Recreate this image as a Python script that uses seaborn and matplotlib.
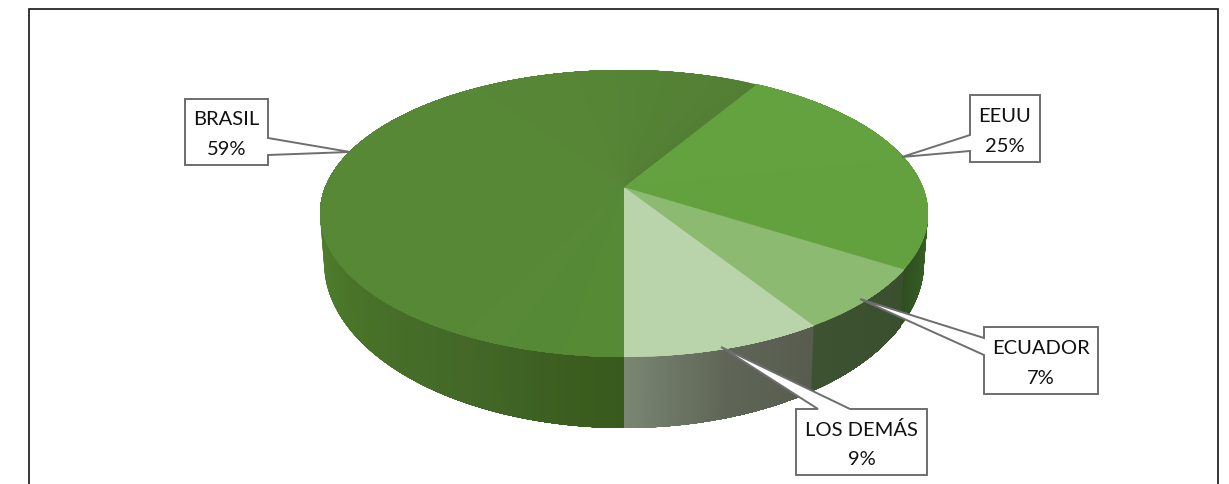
import numpy as np
import matplotlib
matplotlib.use("Agg")
import matplotlib.pyplot as plt
import seaborn as sns

# --- data (counter-clockwise from the bottom of the pie) ---
categories = ["LOS DEMÁS", "ECUADOR", "EEUU", "BRASIL"]
shares = [9.0, 7.0, 25.4, 58.6]

# --- style ---
top_stops = {
    "LOS DEMÁS": ["#b9d3ab", "#b9d3ab"],
    "ECUADOR": ["#8bba70", "#8bba70"],
    "EEUU": ["#63a03e", "#64a13f"],
    "BRASIL": ["#527f34", "#568536", "#578836", "#578836", "#578836", "#578836", "#568a35"],
}
wall_stops = {  # left to right on the screen
    "LOS DEMÁS": ["#7a8672", "#5f6657", "#575c4e"],
    "ECUADOR": ["#3d5231", "#3a4f2e"],
    "EEUU": ["#2f4f20", "#3a6526"],
    "BRASIL": ["#4f802d", "#497328", "#436828", "#385a1c"],
}
callouts = [
    ("BRASIL", (185, 268, 99, 165), [(268, 138), (350, 152), (268, 155)]),
    ("EEUU", (970, 1040, 95, 162), [(970, 135), (902, 157), (970, 151)]),
    ("ECUADOR", (984, 1098, 327, 394), [(984, 338), (860, 299), (984, 355)]),
    ("LOS DEMÁS", (796, 927, 409, 475), [(818, 409), (721, 347), (850, 409)]),
]

sns.set_theme(style="white")
plt.rcParams["font.family"] = ["Lato", "DejaVu Sans"]

W, H = 1229, 484
fig = plt.figure(figsize=(W / 100, H / 100), dpi=100)
ax = fig.add_axes([0, 0, 1, 1])
ax.set_xlim(0, W)
ax.set_ylim(H, 0)
ax.axis("off")

# Perspective view of the pie: ellipse centre, half axes, apex offset
CX, CY, AE, BE = 624.0, 213.5, 304.0, 143.5
APEX = 26.5
K = APEX / BE
CHORD = AE * np.sqrt(1 - K ** 2)
# bottom ellipse of the wall
BCY, BBE, BAE = 262.0, 166.0, 300.0


def project(theta):
    c, s = np.cos(theta), np.sin(theta)
    w = 1 + K * s
    return CX + CHORD * c / w, CY - (BE * s + APEX) / w


def wall_bottom(x):
    dx = (x - CX) * BAE / AE
    return CX + dx, BCY + BBE * np.sqrt(np.clip(1 - (dx / BAE) ** 2, 0, 1))


# frame
ax.plot([29, 29, 1218, 1218], [H, 9, 9, H], color="#262626", lw=1.3, zorder=1,
        solid_joinstyle="miter")

edges = np.radians(-90 + 360 * np.cumsum([0] + shares) / sum(shares))
z = 2.0
for name, t0, t1 in zip(categories, edges[:-1], edges[1:]):
    # wall: only the part of the rim on the near half of the ellipse
    th = np.linspace(t0, t1, 160)
    xt, yt = project(th)
    th = th[yt >= CY]
    if th.size > 1:
        xt, yt = project(th)
        order = np.argsort(xt)
        xt, yt = xt[order], yt[order]
        xb, yb = wall_bottom(xt)
        pal = sns.blend_palette(wall_stops[name], n_colors=len(xt) - 1)
        # each strip covers everything still to come, so no seams show
        for i in range(len(xt) - 1):
            z += 0.0001
            ax.fill(np.r_[xt[i:], xb[i:][::-1]], np.r_[yt[i:], yb[i:][::-1]],
                    facecolor=pal[i], edgecolor="none", zorder=z)

z = 3.0
for name, t0, t1 in zip(categories, edges[:-1], edges[1:]):
    # top face, shaded along the arc in the same overlapping way
    n = max(int((t1 - t0) * 30), 2)
    th = np.linspace(t0, t1, n + 1)
    pal = sns.blend_palette(top_stops[name], n_colors=n)
    for i in range(n):
        z += 0.0001
        x, y = project(np.linspace(th[i], t1, 300))
        ax.fill(np.r_[CX, x], np.r_[CY - APEX, y], facecolor=pal[i],
                edgecolor="none", zorder=z)

# callouts
total = sum(shares)
for name, (x0, x1, y0, y1), tip in callouts:
    pct = round(shares[categories.index(name)] / total * 100)
    px = [p[0] for p in tip]
    py = [p[1] for p in tip]
    if px[0] == x0:   # pointer leaves the left side
        xs = [x0, x1, x1, x0] + px[::-1]
        ys = [y0, y0, y1, y1] + py[::-1]
    elif px[0] == x1:  # right side
        xs = [x0, x1] + px + [x1, x0]
        ys = [y0, y0] + py + [y1, y1]
    else:              # top side
        xs = [x0] + px + [x1, x1, x0]
        ys = [y0] + py + [y0, y1, y1]
    ax.fill(xs, ys, facecolor="white", edgecolor="#6e6e6e", lw=1.4, zorder=5,
            joinstyle="miter")
    ym = (y0 + y1) / 2
    ax.text((x0 + x1) / 2, ym - 12.5, name, ha="center", va="center",
            fontsize=14.5, color="#111111", zorder=6)
    ax.text((x0 + x1) / 2, ym + 17.5, f"{pct}%", ha="center", va="center",
            fontsize=14.5, color="#111111", zorder=6)

fig.savefig("out.png", dpi=100)
